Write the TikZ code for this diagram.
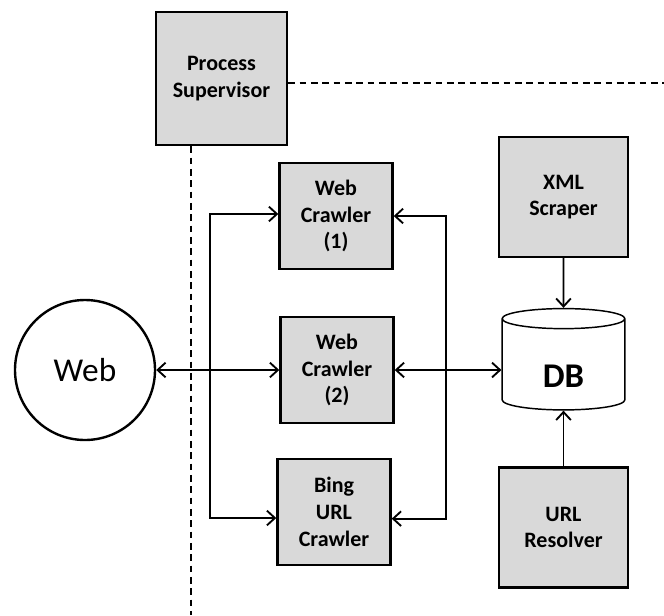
\documentclass[tikz,border=0pt]{standalone}
\usepackage{fontspec}
\setmainfont{Carlito}
\usetikzlibrary{shapes,arrows.meta}
\definecolor{boxgray}{HTML}{D9D9D9}

\begin{document}
\begin{tikzpicture}[x=0.75pt,y=-0.75pt,
					box/.style={draw, line width=1.8pt, fill=boxgray, align=center, inner sep=0pt,
						font=\bfseries\fontsize{16.5}{20}\selectfont},
					crawler/.style={box, minimum width=84.75pt, minimum height=79.5pt},
					worker/.style={box, minimum width=96.75pt, minimum height=90pt},
					arr/.style={line width=1.4pt, -{Straight Barb[length=6pt,width=11pt]}},
					arrboth/.style={line width=1.4pt, {Straight Barb[length=6pt,width=11pt]}-{Straight Barb[length=6pt,width=11pt]}},
					super/.style={line width=1pt, dash pattern=on 5pt off 3.5pt}]
    \useasboundingbox (0,0) rectangle (664,615);
    % Place nodes
    \node [box, minimum width=98.25pt, minimum height=99.75pt] (ps) at (221.5,78.5) {Process\\Supervisor};
    \node [draw, circle, line width=1.8pt, minimum size=105pt,
    	font=\fontsize{25}{30}\selectfont] (web) at (85,370) {Web};
    \node [crawler] (c1) at (336,216) {Web\\Crawler\\(1)};
    \node [crawler] (c2) at (337,370) {Web\\Crawler\\(2)};
    \node [crawler] (bing) at (334,512) {Bing\\URL\\Crawler};
    \node [draw, cylinder, shape border rotate=90, aspect=0.4, line width=1.1pt,
    	minimum width=92pt, minimum height=76pt, text height=31pt, text depth=0pt,
    	font=\bfseries\fontsize{26}{30}\selectfont] (db) at (563.5,366.5) {DB};
    \node [worker] (xml) at (563.5,197) {XML\\Scraper};
    \node [worker] (url) at (563.5,527.5) {URL\\Resolver};
    \coordinate (lbus) at (210,0);
    \coordinate (rbus) at (446,0);
    \coordinate (psright) at (664,83);
    \coordinate (psdown) at (191,615);
    % Draw edges
    \draw[super] (ps.east |- psright) -- (psright);
    \draw[super] (ps.south -| psdown) -- (psdown);
    \draw[arrboth] ([yshift=1.5pt]c1.west) -- ([yshift=1.5pt]c1.west -| lbus)
    	-- ([yshift=-4.5pt]bing.west -| lbus) -- ([yshift=-4.5pt]bing.west);
    \draw[arrboth] (c1.east) -- (c1.east -| rbus)
    	-- ([yshift=-5pt]bing.east -| rbus) -- ([yshift=-5pt]bing.east);
    \draw[arrboth] (web) -- (c2);
    \draw[arrboth] (c2.east) -- (c2.east -| db.west);
    \draw[arr] (xml) -- (db);
    \draw[arr] (url) -- (db);
\end{tikzpicture}
\end{document}
